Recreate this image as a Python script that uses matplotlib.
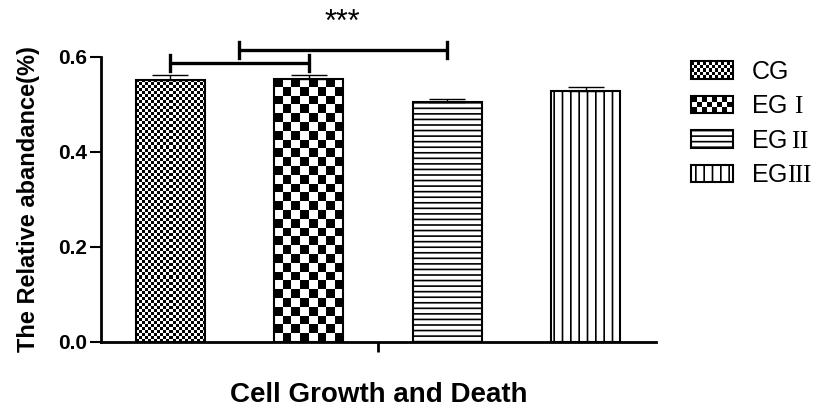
import numpy as np
import matplotlib
matplotlib.use('Agg')
import matplotlib.pyplot as plt
from matplotlib.patches import Rectangle
from matplotlib.legend_handler import HandlerBase

plt.rcParams['font.family'] = ['Liberation Sans', 'Noto Sans CJK SC', 'DejaVu Sans']
plt.rcParams['mathtext.fontset'] = 'custom'
plt.rcParams['mathtext.rm'] = 'Liberation Serif'
plt.rcParams['hatch.linewidth'] = 1.2

groups = ['CG', r'EG $\mathrm{I}$', r'EG$\,\mathrm{II}$', r'EG$\mathrm{III}$']
means = [0.552, 0.554, 0.506, 0.528]
errs = [0.010, 0.008, 0.005, 0.009]
xlabel = 'Cell Growth and Death'
ylabel = 'The Relative abandance(%)'
yticks = [0.0, 0.2, 0.4, 0.6]
# significance brackets: (left, right, level)
brackets = [(0, 1, 0.587), (0.5, 2, 0.615)]
star_text = '***'

# pattern per bar: ('checker', cells across) or hatch string
patterns = [('checker', 23), ('checker', 8), ('hatch', '---'), ('hatch', '||')]


class CheckerHandler(HandlerBase):
    def __init__(self, nx, ny):
        super().__init__()
        self.nx, self.ny = nx, ny

    def create_artists(self, legend, orig_handle, xdescent, ydescent,
                       width, height, fontsize, trans):
        arts = []
        cw, ch = width / self.nx, height / self.ny
        for i in range(self.nx):
            for j in range(self.ny):
                if (i + j) % 2 == 0:
                    arts.append(Rectangle((-xdescent + i * cw, -ydescent + j * ch), cw, ch,
                                          facecolor='black', edgecolor='none', transform=trans))
        arts.append(Rectangle((-xdescent, -ydescent), width, height, facecolor='none',
                              edgecolor='black', lw=1.5, transform=trans))
        return arts


fig = plt.figure(figsize=(8.3, 4.12), dpi=100)
ax = fig.add_axes([0.1217, 0.170, 0.669, 0.6917])

x = np.arange(len(groups))
faces = ['none' if p[0] == 'checker' else 'white' for p in patterns]
bars = ax.bar(x, means, width=0.5, color=faces, edgecolor='black', linewidth=1.5, zorder=2)
ax.errorbar(x, means, yerr=[np.zeros(len(errs)), errs], fmt='none', ecolor='black',
            elinewidth=1, capsize=13, capthick=1, zorder=3)

ax.set_xlim(-0.5, 3.51)
ax.set_ylim(0, 0.6)

# fill patterns
fig.canvas.draw()
for bar, pat in zip(bars, patterns):
    if pat[0] == 'hatch':
        bar.set_hatch(pat[1])
        continue
    nx = pat[1]
    bb = bar.get_window_extent()
    ny = int(round(nx * bb.height / bb.width))
    checker = (np.indices((ny, nx)).sum(axis=0) % 2).astype(float)
    ax.imshow(checker, cmap='gray', interpolation='nearest', aspect='auto',
              extent=[bar.get_x(), bar.get_x() + bar.get_width(), 0, bar.get_height()],
              zorder=1.5, vmin=0, vmax=1)
ax.set_xlim(-0.5, 3.51)
ax.set_ylim(0, 0.6)

# significance brackets
for l, r, lev in brackets:
    ax.plot([l, r], [lev, lev], color='black', lw=2.4, clip_on=False, solid_capstyle='butt')
    for xx in (l, r):
        ax.plot([xx, xx], [lev - 0.017, lev + 0.017], color='black', lw=2.4, clip_on=False)
ax.text(1.24, 0.655, star_text, ha='center', va='baseline', fontsize=22)

ax.spines['top'].set_visible(False)
ax.spines['right'].set_visible(False)
ax.spines['left'].set_linewidth(2)
ax.spines['bottom'].set_linewidth(2)
ax.set_yticks(yticks)
ax.set_yticklabels([f'{v:.1f}' for v in yticks], fontweight='bold', fontsize=15)
ax.tick_params(axis='y', width=1.5, length=8, pad=2)
ax.set_xticks([1.5])
ax.set_xticklabels([''])
ax.tick_params(axis='x', width=2, length=7)
ax.set_xlabel(xlabel, fontweight='bold', fontsize=20, labelpad=18)
ax.set_ylabel(ylabel, fontweight='bold', fontsize=17, labelpad=13)

handles = [Rectangle((0, 0), 1, 1, facecolor='white', edgecolor='black', lw=1.5) for _ in groups]
handles[2].set_hatch('---')
handles[3].set_hatch('||')
fig.legend(handles, groups, loc='upper left', bbox_to_anchor=(0.833, 0.855),
           frameon=False, fontsize=18, handlelength=1.65, handleheight=0.68,
           handletextpad=0.75, labelspacing=0.42, borderpad=0, borderaxespad=0,
           handler_map={handles[0]: CheckerHandler(14, 5), handles[1]: CheckerHandler(8, 3)})

fig.savefig('out.png', dpi=100)
